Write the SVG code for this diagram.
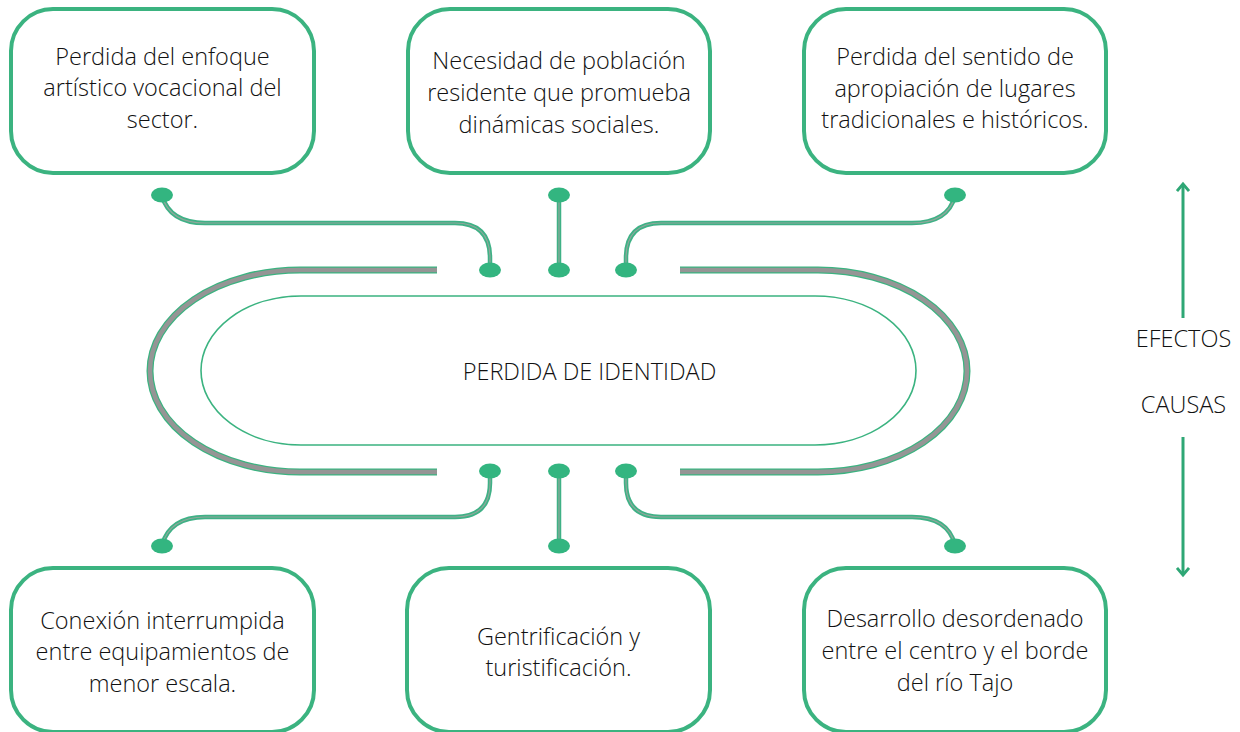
<svg xmlns="http://www.w3.org/2000/svg" width="1240" height="732" viewBox="0 0 1240 732">
<defs>
<style>
.box{fill:#fff;stroke:#3bb380;stroke-width:4}
.t{font-family:"Open Sans","Liberation Sans",sans-serif;font-weight:300;font-size:23.5px;fill:#111;text-anchor:middle}
.cg{fill:none;stroke:#3fb186;stroke-width:4.5}
.cc{fill:none;stroke:#8fa89b;stroke-width:1.2}
.dot{fill:#33b580}
.ring-o{fill:none;stroke:#3bb380;stroke-width:7}
.ring-i{fill:none;stroke:#959595;stroke-width:4.5}
.arr{fill:none;stroke:#2ea775;stroke-width:3}
</style>
<marker id="ah" viewBox="0 0 12 14" refX="9" refY="7" markerWidth="12" markerHeight="14" markerUnits="userSpaceOnUse" orient="auto">
<path d="M2,1 L9,7 L2,13" fill="none" stroke="#2ea775" stroke-width="2.8"/>
</marker>
</defs>
<rect width="1240" height="732" fill="#fff"/>

<g id="center">
<path class="ring-o" d="M437,270 H300 A150,101 0 0 0 300,472 H437"/>
<path class="ring-o" d="M680,270 H818 A149,101 0 0 1 818,472 H680"/>
<path class="ring-i" d="M437,270 H300 A150,101 0 0 0 300,472 H437"/>
<path class="ring-i" d="M680,270 H818 A149,101 0 0 1 818,472 H680"/>
<path d="M301,296 H815 A101,74.5 0 0 1 815,445 H301 A100,74.5 0 0 1 301,296 Z" fill="none" stroke="#3bb380" stroke-width="1.6"/>
<text class="t" x="589.5" y="380">PERDIDA DE IDENTIDAD</text>
</g>

<g id="connectors">
<path class="cg" d="M162,196 Q170,223 205,223 H455 Q490,223 490,258 V270"/>
<path class="cg" d="M559,195 V270"/>
<path class="cg" d="M626,270 V258 Q626,223 661,223 H912 Q948,223 955,196"/>
<path class="cg" d="M490,471 V483 Q490,517 455,517 H205 Q170,517 162,545"/>
<path class="cg" d="M559,471 V546"/>
<path class="cg" d="M626,471 V483 Q626,517 661,517 H912 Q948,517 955,545"/>
<path class="cc" d="M162,196 Q170,223 205,223 H455 Q490,223 490,258 V270"/>
<path class="cc" d="M559,195 V270"/>
<path class="cc" d="M626,270 V258 Q626,223 661,223 H912 Q948,223 955,196"/>
<path class="cc" d="M490,471 V483 Q490,517 455,517 H205 Q170,517 162,545"/>
<path class="cc" d="M559,471 V546"/>
<path class="cc" d="M626,471 V483 Q626,517 661,517 H912 Q948,517 955,545"/>
<ellipse class="dot" cx="162" cy="195" rx="11" ry="7.5"/>
<ellipse class="dot" cx="559" cy="195" rx="11" ry="7.5"/>
<ellipse class="dot" cx="955" cy="195" rx="11" ry="7.5"/>
<ellipse class="dot" cx="490" cy="270" rx="11" ry="7.5"/>
<ellipse class="dot" cx="559" cy="270" rx="11" ry="7.5"/>
<ellipse class="dot" cx="626" cy="270" rx="11" ry="7.5"/>
<ellipse class="dot" cx="490" cy="471" rx="11" ry="7.5"/>
<ellipse class="dot" cx="559" cy="471" rx="11" ry="7.5"/>
<ellipse class="dot" cx="626" cy="471" rx="11" ry="7.5"/>
<ellipse class="dot" cx="162" cy="546" rx="11" ry="7.5"/>
<ellipse class="dot" cx="559" cy="546" rx="11" ry="7.5"/>
<ellipse class="dot" cx="955" cy="546" rx="11" ry="7.5"/>
</g>

<g id="box-tl">
<rect class="box" x="11" y="9" width="303" height="164" rx="42"/>
<text class="t" x="162.5" y="65">Perdida del enfoque</text>
<text class="t" x="162.5" y="96">artístico vocacional del</text>
<text class="t" x="162.5" y="128">sector.</text>
</g>
<g id="box-tm">
<rect class="box" x="408" y="9" width="302" height="164" rx="42"/>
<text class="t" x="559" y="69">Necesidad de población</text>
<text class="t" x="559" y="101">residente que promueba</text>
<text class="t" x="559" y="133">dinámicas sociales.</text>
</g>
<g id="box-tr">
<rect class="box" x="804" y="9" width="302" height="164" rx="42"/>
<text class="t" x="955" y="65">Perdida del sentido de</text>
<text class="t" x="955" y="97">apropiación de lugares</text>
<text class="t" x="955" y="128">tradicionales e históricos.</text>
</g>
<g id="box-bl">
<rect class="box" x="11" y="568" width="303" height="164" rx="42"/>
<text class="t" x="162.5" y="629">Conexión interrumpida</text>
<text class="t" x="162.5" y="660">entre equipamientos de</text>
<text class="t" x="162.5" y="692">menor escala.</text>
</g>
<g id="box-bm">
<rect class="box" x="407" y="568" width="303" height="164" rx="42"/>
<text class="t" x="558.5" y="645">Gentrificación y</text>
<text class="t" x="558.5" y="676">turistificación.</text>
</g>
<g id="box-br">
<rect class="box" x="804" y="568" width="302" height="164" rx="42"/>
<text class="t" x="955" y="627">Desarrollo desordenado</text>
<text class="t" x="955" y="659">entre el centro y el borde</text>
<text class="t" x="955" y="691">del río Tajo</text>
</g>

<g id="legend">
<path class="arr" d="M1183,318 V184" marker-end="url(#ah)"/>
<path class="arr" d="M1183,437 V575" marker-end="url(#ah)"/>
<text class="t" x="1183.5" y="347">EFECTOS</text>
<text class="t" x="1183.5" y="413">CAUSAS</text>
</g>
</svg>
